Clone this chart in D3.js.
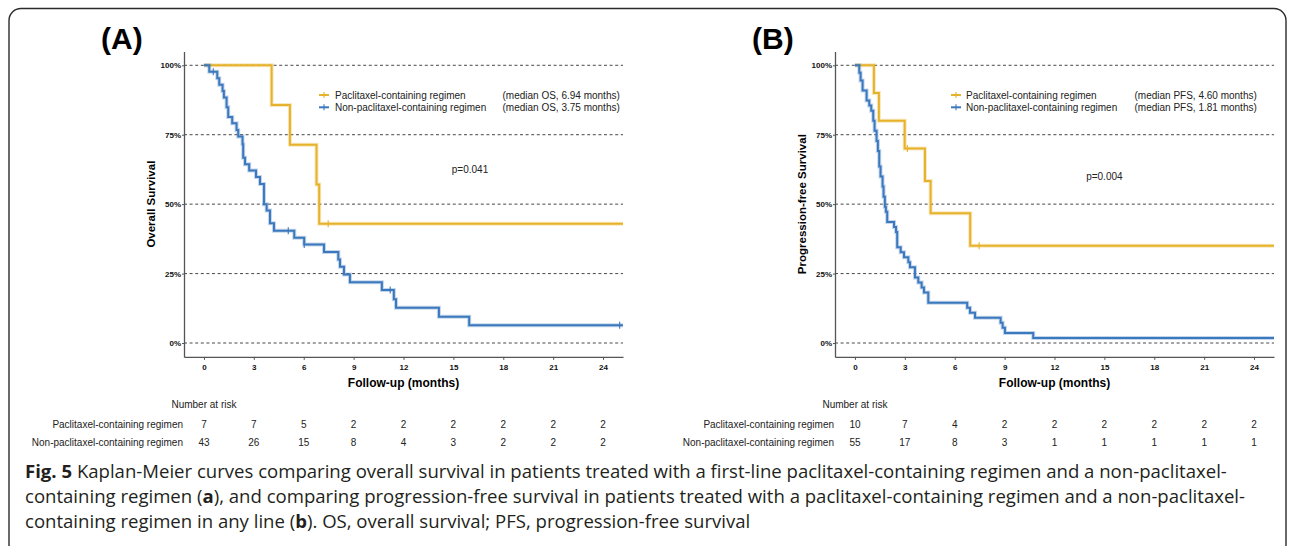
<!DOCTYPE html>
<html>
<head>
<meta charset="utf-8">
<script src="https://cdn.jsdelivr.net/npm/d3@7"></script>
<style>
body { margin: 0; background: #fff; }
svg { display: block; }
</style>
</head>
<body>
<div id="chart"></div>
<script>
// ---- data ----
const monthTicks = [0, 3, 6, 9, 12, 15, 18, 21, 24];
const pctTicks = [0, 0.25, 0.5, 0.75, 1];
const groupNames = ["Paclitaxel-containing regimen", "Non-paclitaxel-containing regimen"];

// (A) overall survival
const osPacTime = [4.07, 5.17, 6.77, 6.93];
const osPacSurv = [0.857, 0.714, 0.571, 0.429];
const osPacCens = [7.47];
const osNonTime = [0.32, 0.80, 0.92, 1.12, 1.20, 1.36, 1.46, 1.70, 1.96, 2.06, 2.32, 2.36, 2.47, 2.72, 3.13, 3.37, 3.61, 3.77, 3.97, 4.21, 5.43, 6.03, 7.22, 8.08, 8.18, 8.42, 8.78, 10.70, 11.42, 11.55, 14.13, 15.95];
const osNonSurv = [0.977, 0.953, 0.930, 0.907, 0.884, 0.849, 0.814, 0.791, 0.767, 0.744, 0.716, 0.667, 0.644, 0.621, 0.598, 0.573, 0.500, 0.477, 0.431, 0.404, 0.379, 0.355, 0.328, 0.301, 0.275, 0.247, 0.219, 0.191, 0.158, 0.127, 0.095, 0.064];
const osNonCens = [0.56, 5.07, 6.03, 11.2, 25.0];
const osRiskPac = [7, 7, 5, 2, 2, 2, 2, 2, 2];
const osRiskNon = [43, 26, 15, 8, 4, 3, 2, 2, 2];
const osMedians = ["(median OS, 6.94 months)", "(median OS, 3.75 months)"];

// (B) progression-free survival
const pfsPacTime = [1.14, 1.44, 2.99, 4.21, 4.55, 6.93];
const pfsPacSurv = [0.900, 0.800, 0.700, 0.583, 0.467, 0.350];
const pfsPacCens = [3.15, 7.47];
const pfsNonTime = [0.26, 0.34, 0.46, 0.70, 0.86, 0.98, 1.10, 1.18, 1.30, 1.38, 1.46, 1.54, 1.66, 1.72, 1.80, 1.86, 1.94, 2.35, 2.47, 2.54, 2.75, 2.95, 3.21, 3.31, 3.61, 3.81, 4.01, 4.15, 4.41, 6.75, 6.92, 7.22, 8.76, 8.88, 9.02, 10.72];
const pfsNonSurv = [0.973, 0.945, 0.909, 0.873, 0.855, 0.836, 0.800, 0.764, 0.727, 0.691, 0.636, 0.600, 0.564, 0.527, 0.491, 0.473, 0.436, 0.418, 0.400, 0.345, 0.327, 0.309, 0.291, 0.273, 0.236, 0.218, 0.200, 0.182, 0.145, 0.127, 0.109, 0.091, 0.073, 0.055, 0.036, 0.018];
const pfsNonCens = [];
const pfsRiskPac = [10, 7, 4, 2, 2, 2, 2, 2, 2];
const pfsRiskNon = [55, 17, 8, 3, 1, 1, 1, 1, 1];
const pfsMedians = ["(median PFS, 4.60 months)", "(median PFS, 1.81 months)"];

const captionLines = [
  [["Fig. 5", true], [" Kaplan-Meier curves comparing overall survival in patients treated with a first-line paclitaxel-containing regimen and a non-paclitaxel-", false]],
  [["containing regimen (", false], ["a", true], ["), and comparing progression-free survival in patients treated with a paclitaxel-containing regimen and a non-paclitaxel-", false]],
  [["containing regimen in any line (", false], ["b", true], ("). OS, overall survival; PFS, progression-free survival"), false]
];
captionLines[2] = [["containing regimen in any line (", false], ["b", true], ["). OS, overall survival; PFS, progression-free survival", false]];

const colors = ["#E7B22B", "#3B78BD"];
const W = 1290, H = 546;
const font = "'Liberation Sans', Arial, sans-serif";

const svg = d3.select("#chart").append("svg")
  .attr("width", W)
  .attr("height", H)
  .style("font-family", font);

// outer frame
svg.append("rect")
  .attr("x", 9).attr("y", 8.5)
  .attr("width", 1277).attr("height", 548)
  .attr("rx", 12)
  .attr("fill", "none")
  .attr("stroke", "#2b2b2b")
  .attr("stroke-width", 1.4);

function survAt(times, surv, t) {
  let s = 1;
  times.forEach((d, i) => { if (d <= t) s = surv[i]; });
  return s;
}

function drawPanel(p) {
  const x = d3.scaleLinear().domain([-1.2, 25.2]).range([p.left, p.left + 439]);
  const y = d3.scaleLinear().domain([-0.05, 1.05]).range([356.9, 51.4]);
  const g = svg.append("g");

  g.append("text")
    .attr("x", p.left - 83).attr("y", 49)
    .attr("font-size", 30).attr("font-weight", "bold")
    .text(p.tag);

  // dashed reference lines
  g.selectAll(".grid").data(pctTicks).join("line")
    .attr("x1", p.left).attr("x2", x(25.2))
    .attr("y1", d => y(d)).attr("y2", d => y(d))
    .attr("stroke", "#333").attr("stroke-width", 0.9)
    .attr("stroke-dasharray", "3,2.6");

  // axes
  const yAxis = g.append("g")
    .attr("transform", `translate(${p.left},0)`)
    .call(d3.axisLeft(y).tickValues(pctTicks).tickFormat(d3.format(".0%")).tickSize(2).tickSizeOuter(0));
  const xAxis = g.append("g")
    .attr("transform", `translate(0,${y(-0.05)})`)
    .call(d3.axisBottom(x).tickValues(monthTicks).tickSize(3).tickSizeOuter(0));
  [yAxis, xAxis].forEach(a => {
    a.select(".domain").attr("stroke", "#555").attr("stroke-width", 1.3);
    a.selectAll(".tick line").attr("stroke", "#555");
    a.selectAll(".tick text")
      .attr("font-family", font).attr("font-size", 8).attr("font-weight", "bold").attr("fill", "#111");
  });
  yAxis.selectAll(".tick text").attr("x", -3);
  xAxis.selectAll(".tick text").attr("y", 7);

  g.append("text")
    .attr("transform", `translate(${p.left - 33},${y(0.5)}) rotate(-90)`)
    .attr("text-anchor", "middle").attr("dominant-baseline", "central")
    .attr("font-size", 11.5).attr("font-weight", "bold")
    .text(p.ylab);
  g.append("text")
    .attr("x", p.left + 219.5).attr("y", 383)
    .attr("text-anchor", "middle").attr("dominant-baseline", "central")
    .attr("font-size", 12).attr("font-weight", "bold")
    .text("Follow-up (months)");

  // curves
  const line = d3.line().x(d => x(d[0])).y(d => y(d[1])).curve(d3.curveStepAfter);
  p.curves.forEach((c, i) => {
    const pts = [[0, 1]].concat(c.time.map((t, j) => [t, c.surv[j]]));
    pts.push([25.2, c.surv[c.surv.length - 1]]);
    g.append("path").attr("d", line(pts))
      .attr("fill", "none").attr("stroke", colors[i]).attr("stroke-opacity", 0.3).attr("stroke-width", 4);
    g.append("path").attr("d", line(pts))
      .attr("fill", "none").attr("stroke", colors[i]).attr("stroke-width", 2);
    g.selectAll(null).data(c.cens).join("line")
      .attr("x1", d => x(d)).attr("x2", d => x(d))
      .attr("y1", d => y(survAt(c.time, c.surv, d)) - 3.5)
      .attr("y2", d => y(survAt(c.time, c.surv, d)) + 3.5)
      .attr("stroke", colors[i]).attr("stroke-width", 1.1);
  });

  // legend
  groupNames.forEach((name, i) => {
    const ly = 95 + i * 12.3;
    const sx = p.left + p.legSym;
    g.append("line").attr("x1", sx - 5).attr("x2", sx + 5).attr("y1", ly).attr("y2", ly)
      .attr("stroke", colors[i]).attr("stroke-width", 2);
    g.append("line").attr("x1", sx).attr("x2", sx).attr("y1", ly - 3).attr("y2", ly + 3)
      .attr("stroke", colors[i]).attr("stroke-width", 1.1);
    g.append("text").attr("x", p.left + p.legText).attr("y", ly)
      .attr("dominant-baseline", "central").attr("font-size", 10).attr("fill", "#222")
      .text(name);
    g.append("text").attr("x", p.left + p.legMed).attr("y", ly)
      .attr("dominant-baseline", "central").attr("font-size", 10).attr("fill", "#222")
      .text(p.medians[i]);
  });

  g.append("text")
    .attr("x", x(p.pPos[0])).attr("y", y(p.pPos[1]))
    .attr("text-anchor", "middle").attr("dominant-baseline", "central")
    .attr("font-size", 10).attr("fill", "#222")
    .text(p.pval);

  // number at risk table
  g.append("text")
    .attr("x", x(0)).attr("y", 404)
    .attr("text-anchor", "middle").attr("dominant-baseline", "central")
    .attr("font-size", 10).attr("fill", "#222")
    .text("Number at risk");
  p.risk.forEach((row, i) => {
    const ry = 424 + i * 18.5;
    g.append("text")
      .attr("x", p.left - 1).attr("y", ry)
      .attr("text-anchor", "end").attr("dominant-baseline", "central")
      .attr("font-size", 10).attr("fill", "#222")
      .text(groupNames[i]);
    g.selectAll(null).data(row).join("text")
      .attr("x", (d, j) => x(monthTicks[j])).attr("y", ry)
      .attr("text-anchor", "middle").attr("dominant-baseline", "central")
      .attr("font-size", 10).attr("fill", "#222")
      .text(d => d);
  });
}

drawPanel({
  tag: "(A)", left: 184, ylab: "Overall Survival", pval: "p=0.041", pPos: [16.0, 0.625],
  legSym: 140, legText: 151, legMed: 318.5, medians: osMedians,
  curves: [
    { time: osPacTime, surv: osPacSurv, cens: osPacCens },
    { time: osNonTime, surv: osNonSurv, cens: osNonCens }
  ],
  risk: [osRiskPac, osRiskNon]
});

drawPanel({
  tag: "(B)", left: 835, ylab: "Progression-free Survival", pval: "p=0.004", pPos: [15.0, 0.6],
  legSym: 121, legText: 131, legMed: 299.5, medians: pfsMedians,
  curves: [
    { time: pfsPacTime, surv: pfsPacSurv, cens: pfsPacCens },
    { time: pfsNonTime, surv: pfsNonSurv, cens: pfsNonCens }
  ],
  risk: [pfsRiskPac, pfsRiskNon]
});

// caption
const cap = svg.append("g").attr("font-family", "'Open Sans', 'Noto Sans', sans-serif").attr("fill", "#231f20");
const capTexts = captionLines.map((parts, i) => {
  const t = cap.append("text").attr("x", 25).attr("y", 478 + i * 25).attr("font-size", 18);
  parts.forEach(pt => t.append("tspan").attr("font-weight", pt[1] ? "bold" : null).text(pt[0]));
  return t;
});
// fit the long second line to its width in the figure
const w2 = capTexts[1].node().getComputedTextLength();
const fs = 18 * 1221 / w2;
capTexts.forEach(t => t.attr("font-size", fs));
</script>
</body>
</html>
